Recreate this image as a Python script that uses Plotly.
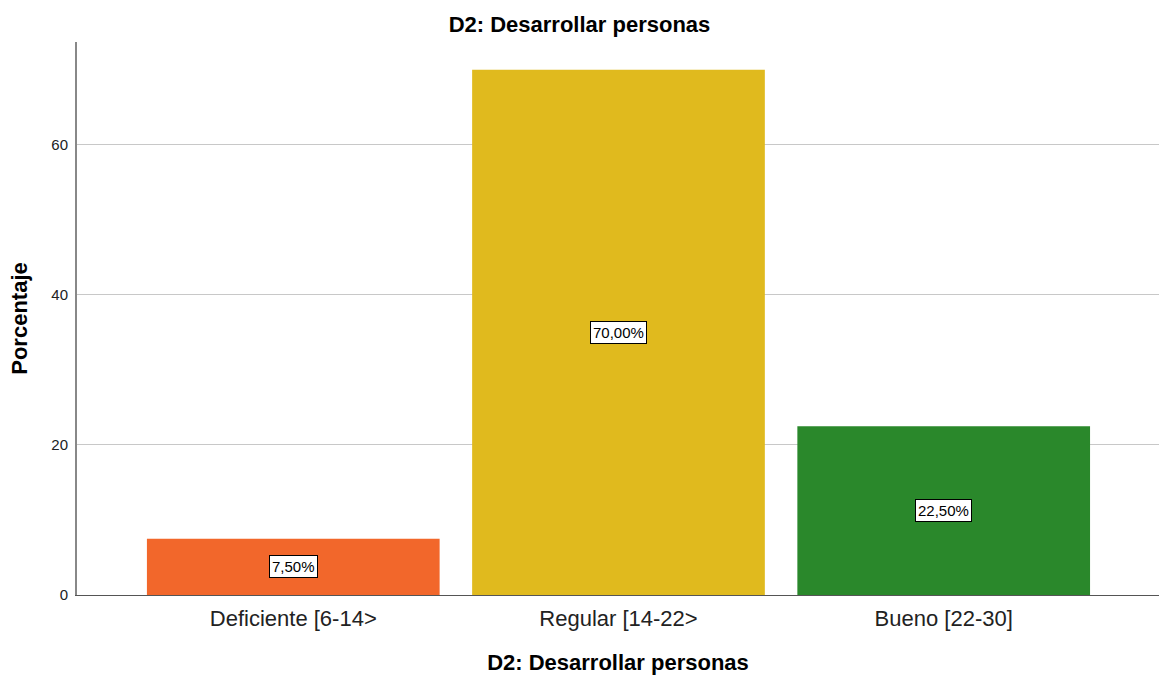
import plotly.graph_objects as go

categories = ["Deficiente [6-14>", "Regular [14-22>", "Bueno [22-30]"]
values = [7.5, 70.0, 22.5]
labels = ["7,50%", "70,00%", "22,50%"]
colors = ["#F2672B", "#E0BA1E", "#2A882B"]
yticks = [0, 20, 40, 60]

fig = go.Figure()
fig.add_trace(go.Bar(
    x=categories, y=values, marker=dict(color=colors, line=dict(width=0)),
    hoverinfo="skip", showlegend=False,
))

for c, v, t in zip(categories, values, labels):
    fig.add_annotation(
        x=c, y=v / 2, text=t, showarrow=False,
        font=dict(family="Liberation Sans, Arial", size=15, color="#000000"),
        bgcolor="#ffffff", bordercolor="#000000", borderwidth=1, borderpad=2,
    )

fig.update_layout(
    width=1159, height=675,
    margin=dict(l=77, r=0, t=42, b=80),
    paper_bgcolor="#ffffff", plot_bgcolor="#ffffff",
    bargap=0.1,
    font=dict(family="Liberation Sans, Arial", color="#000000"),
    title=dict(text="<b>D2: Desarrollar personas</b>", x=0.5, xanchor="center",
               y=1 - 24 / 675, yanchor="middle", font=dict(size=22, color="#000000")),
    xaxis=dict(
        range=[-0.665, 2.662], showgrid=False, showline=True, linecolor="#555555",
        linewidth=1, ticks="outside", ticklen=4, tickcolor="rgba(0,0,0,0)",
        tickfont=dict(size=22, color="#222222"),
        title=dict(text="<b>D2: Desarrollar personas</b>", font=dict(size=22, color="#000000"), standoff=24),
        zeroline=False,
    ),
    yaxis=dict(
        range=[0, 73.7], tickvals=yticks, showgrid=True, gridcolor="#C8C8C8", gridwidth=1,
        showline=True, linecolor="#888888", linewidth=2, ticks="outside", ticklen=4,
        tickcolor="rgba(0,0,0,0)",
        tickfont=dict(size=15, color="#222222"),
        title=dict(text="<b>Porcentaje</b>", font=dict(size=22, color="#000000"), standoff=18),
        zeroline=False,
    ),
)

fig.write_html("out.html", config={"displayModeBar": False},
               post_script="document.body.style.margin='0';")
